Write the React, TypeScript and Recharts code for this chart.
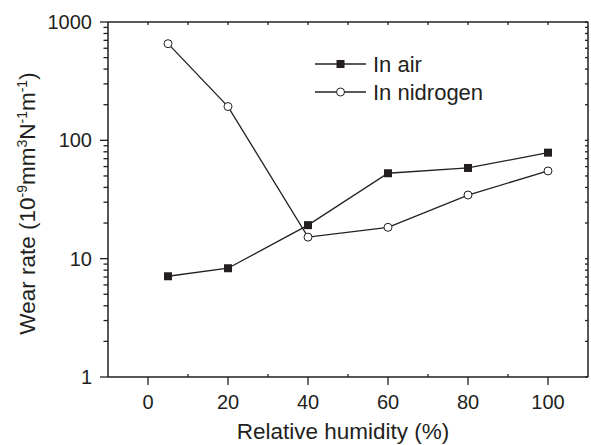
import { LineChart, Line, XAxis, YAxis } from 'recharts'

// relative humidity (%) and wear rate (10^-9 mm^3 N^-1 m^-1)
const HUMIDITY = [5, 20, 40, 60, 80, 100]
const WEAR_AIR = [7.1, 8.3, 19.2, 52.7, 58.4, 78.7]
const WEAR_NITROGEN = [656, 193, 15.2, 18.4, 34.5, 55.1]

const X_TICKS = [0, 10, 20, 30, 40, 50, 60, 70, 80, 90, 100]
const X_LABELS = [0, 20, 40, 60, 80, 100]
const Y_LABELS = [1, 10, 100, 1000]
const Y_TICKS = [
  1, 2, 3, 4, 5, 6, 7, 8, 9,
  10, 20, 30, 40, 50, 60, 70, 80, 90,
  100, 200, 300, 400, 500, 600, 700, 800, 900,
  1000,
]

// each series sits on its own pair of (identical) axes so the top and right frame gets drawn
const SERIES = [
  { key: 'air', name: 'In air', marker: 'square', xId: 'bottom', yId: 'left' },
  { key: 'nitrogen', name: 'In nidrogen', marker: 'circle', xId: 'top', yId: 'right' },
]

const INK = '#231f20'
const FONT = '"Liberation Sans", Arial, sans-serif'

const data = HUMIDITY.map((h, i) => ({
  humidity: h,
  air: WEAR_AIR[i],
  nitrogen: WEAR_NITROGEN[i],
}))

function Marker({ type, cx, cy }: { type: string; cx: number; cy: number }) {
  if (type === 'square') {
    return <rect x={cx - 4} y={cy - 4} width={8} height={8} fill={INK} />
  }
  return <circle cx={cx} cy={cy} r={4} fill="#fff" stroke={INK} strokeWidth={1} />
}

function BottomTick(props: any) {
  const { x, y, payload } = props
  const major = X_LABELS.includes(payload.value)
  return (
    <g>
      <line x1={x} x2={x} y1={y} y2={major ? y + 8 : y - 3} stroke={INK} strokeWidth={1.3} />
      {major && (
        <text x={x} y={y + 18} dy="0.71em" textAnchor="middle" fill={INK} fontSize={20} fontFamily={FONT}>
          {payload.value}
        </text>
      )}
    </g>
  )
}

function TopTick(props: any) {
  const { x, y } = props
  return <line x1={x} x2={x} y1={y} y2={y + 3} stroke={INK} strokeWidth={1.3} />
}

function LeftTick(props: any) {
  const { x, y, payload } = props
  const major = Y_LABELS.includes(payload.value)
  return (
    <g>
      <line x1={x} x2={x - (major ? 8 : 4.5)} y1={y} y2={y} stroke={INK} strokeWidth={1.3} />
      {major && (
        <text x={x - 16} y={y} dy="0.355em" textAnchor="end" fill={INK} fontSize={20} fontFamily={FONT}>
          {payload.value}
        </text>
      )}
    </g>
  )
}

function RightTick(props: any) {
  const { x, y } = props
  return <line x1={x} x2={x - 3} y1={y} y2={y} stroke={INK} strokeWidth={1.3} />
}

function YTitle(props: any) {
  const vb = props.viewBox
  const cy = vb.y + vb.height / 2 + 4
  const cx = vb.x + 35
  const sup = { fontSize: 14, dy: -8 }
  const down = { dy: 8 }
  return (
    <text
      x={cx}
      y={cy}
      transform={`rotate(-90 ${cx} ${cy})`}
      textAnchor="middle"
      fill={INK}
      fontSize={22.5}
      fontFamily={FONT}
    >
      <tspan>Wear rate (10</tspan>
      <tspan {...sup}>-9</tspan>
      <tspan {...down}>mm</tspan>
      <tspan {...sup}>3</tspan>
      <tspan {...down}>N</tspan>
      <tspan {...sup}>-1</tspan>
      <tspan {...down}>m</tspan>
      <tspan {...sup}>-1</tspan>
      <tspan {...down}>)</tspan>
    </text>
  )
}

function XTitle(props: any) {
  const vb = props.viewBox
  return (
    <text
      x={vb.x + vb.width / 2 - 5}
      y={vb.y + 62}
      textAnchor="middle"
      fill={INK}
      fontSize={22.5}
      fontFamily={FONT}
    >
      Relative humidity (%)
    </text>
  )
}

export default function App() {
  const frame = { stroke: INK, strokeWidth: 1.5 }
  return (
    <div style={{ position: 'absolute', left: 0, top: 0, width: 591, height: 445, background: '#fff' }}>
      <LineChart width={591} height={445} data={data} margin={{ top: 21, right: 2, bottom: 0, left: 0 }}>
        <XAxis
          xAxisId="bottom"
          dataKey="humidity"
          type="number"
          domain={[-10, 110]}
          allowDataOverflow
          ticks={X_TICKS}
          interval={0}
          height={68}
          tickSize={0}
          tickMargin={0}
          tickLine={false}
          tick={<BottomTick />}
          axisLine={frame}
          label={<XTitle />}
        />
        <XAxis
          xAxisId="top"
          orientation="top"
          dataKey="humidity"
          type="number"
          domain={[-10, 110]}
          allowDataOverflow
          ticks={X_TICKS}
          interval={0}
          height={1}
          tickSize={0}
          tickMargin={0}
          tickLine={false}
          tick={<TopTick />}
          axisLine={frame}
        />
        <YAxis
          yAxisId="left"
          type="number"
          scale="log"
          domain={[1, 1000]}
          allowDataOverflow
          ticks={Y_TICKS}
          interval={0}
          width={108}
          tickSize={0}
          tickMargin={0}
          tickLine={false}
          tick={<LeftTick />}
          axisLine={frame}
          label={<YTitle />}
        />
        <YAxis
          yAxisId="right"
          orientation="right"
          type="number"
          scale="log"
          domain={[1, 1000]}
          allowDataOverflow
          ticks={Y_TICKS}
          interval={0}
          width={1}
          tickSize={0}
          tickMargin={0}
          tickLine={false}
          tick={<RightTick />}
          axisLine={frame}
        />
        {SERIES.map((s) => (
          <Line
            key={s.key}
            xAxisId={s.xId}
            yAxisId={s.yId}
            dataKey={s.key}
            name={s.name}
            type="linear"
            stroke={INK}
            strokeWidth={1.3}
            isAnimationActive={false}
            dot={(p: any) => <Marker key={`${s.key}-${p.index}`} type={s.marker} cx={p.cx} cy={p.cy} />}
            activeDot={false}
          />
        ))}
      </LineChart>
      <svg
        width={591}
        height={445}
        style={{ position: 'absolute', left: 0, top: 0, pointerEvents: 'none' }}
      >
        {SERIES.map((s, i) => {
          const y = 64 + i * 28
          return (
            <g key={s.key}>
              <line x1={315} x2={366} y1={y} y2={y} stroke={INK} strokeWidth={1.3} />
              <Marker type={s.marker} cx={340.5} cy={y} />
              <text x={373} y={y} dy="0.36em" fill={INK} fontSize={22} fontFamily={FONT}>
                {s.name}
              </text>
            </g>
          )
        })}
      </svg>
    </div>
  )
}
